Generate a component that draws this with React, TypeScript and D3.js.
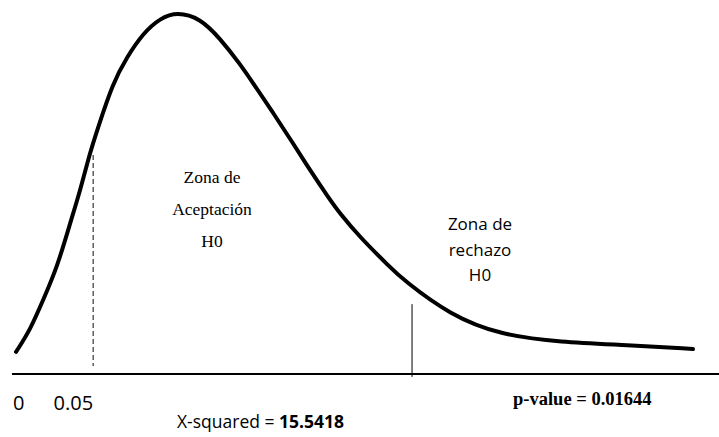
import { useMemo } from "react";
import * as d3 from "d3";

// curve: x in arbitrary units 0..100, density relative to peak
const curveX = [0, 2.1, 4, 6.1, 8, 9.5, 10.9, 12, 14.3, 16.4, 18.8, 21.3, 23.8, 27.2, 30.1, 33.1, 35, 38, 40.9, 43.4, 46.1, 47.9, 50.8, 55.2, 57.2, 64.1, 71.5, 80.4, 90.3, 100];
const curveY = [0.061, 0.122, 0.204, 0.296, 0.417, 0.508, 0.61, 0.674, 0.804, 0.876, 0.942, 0.983, 1, 0.983, 0.928, 0.856, 0.804, 0.721, 0.638, 0.564, 0.489, 0.442, 0.378, 0.296, 0.26, 0.163, 0.108, 0.088, 0.08, 0.069];

const lowerCut = { x: 11.4, top: 0.605, bottom: 0.022 };
const upperCut = { x: 58.5, top: 0.193, bottom: -0.008 };

const tickLabels = ["0", "0.05"];
const acceptLines = ["Zona de", "Aceptación", "H0"];
const rejectLines = ["Zona de", "rechazo", "H0"];
const statLabel = "X-squared = ";
const statValue = "15.5418";
const pLabel = "p-value = 0.01644";

const W = 719;
const H = 437;

export default function App() {
  const x = useMemo(() => d3.scaleLinear().domain([0, 100]).range([16, 693]), []);
  const y = useMemo(() => d3.scaleLinear().domain([0, 1]).range([374, 12]), []);

  const pts: [number, number][] = curveX.map((v, i) => [v, curveY[i]]);
  const path = d3
    .line<[number, number]>()
    .x((d) => x(d[0]))
    .y((d) => y(d[1]))
    .curve(d3.curveBasis)(pts) ?? "";

  const serif = "Liberation Serif, Times New Roman, serif";
  const sans = "Open Sans, Liberation Sans, sans-serif";

  return (
    <svg
      width={W}
      height={H}
      style={{ position: "absolute", left: 0, top: 0, background: "#fff" }}
    >
      <line x1={x(-0.6)} x2={W} y1={y(0)} y2={y(0)} stroke="#000" strokeWidth={2} />
      <path d={path} fill="none" stroke="#000" strokeWidth={4} strokeLinecap="round" strokeLinejoin="round" />
      <line
        x1={x(lowerCut.x)}
        x2={x(lowerCut.x)}
        y1={y(lowerCut.top)}
        y2={y(lowerCut.bottom)}
        stroke="#444"
        strokeWidth={1.3}
        strokeDasharray="5,3"
      />
      <line
        x1={x(upperCut.x)}
        x2={x(upperCut.x)}
        y1={y(upperCut.top)}
        y2={y(upperCut.bottom)}
        stroke="#000"
        strokeWidth={1}
      />

      {acceptLines.map((t, i) => (
        <text
          key={"a" + i}
          x={212}
          y={183 + i * 32}
          fontFamily={serif}
          fontSize={17.5}
          textAnchor="middle"
          fill="#000"
        >
          {t}
        </text>
      ))}
      {rejectLines.map((t, i) => (
        <text
          key={"r" + i}
          x={480}
          y={230 + i * 25.5}
          fontFamily={sans}
          fontSize={17}
          textAnchor="middle"
          fill="#000"
        >
          {t}
        </text>
      ))}

      <text x={x(0) - 3} y={410} fontFamily={sans} fontSize={20} fill="#000">
        {tickLabels[0]}
      </text>
      <text x={x(lowerCut.x)} y={410} fontFamily={sans} fontSize={20} textAnchor="end" fill="#000">
        {tickLabels[1]}
      </text>

      <text x={177} y={428} fontFamily={sans} fontSize={17.5} fill="#000">
        {statLabel}
        <tspan fontWeight="bold">{statValue}</tspan>
      </text>

      <text x={513} y={405} fontFamily={serif} fontSize={18.5} fontWeight="bold" fill="#000">
        {pLabel}
      </text>
    </svg>
  );
}
